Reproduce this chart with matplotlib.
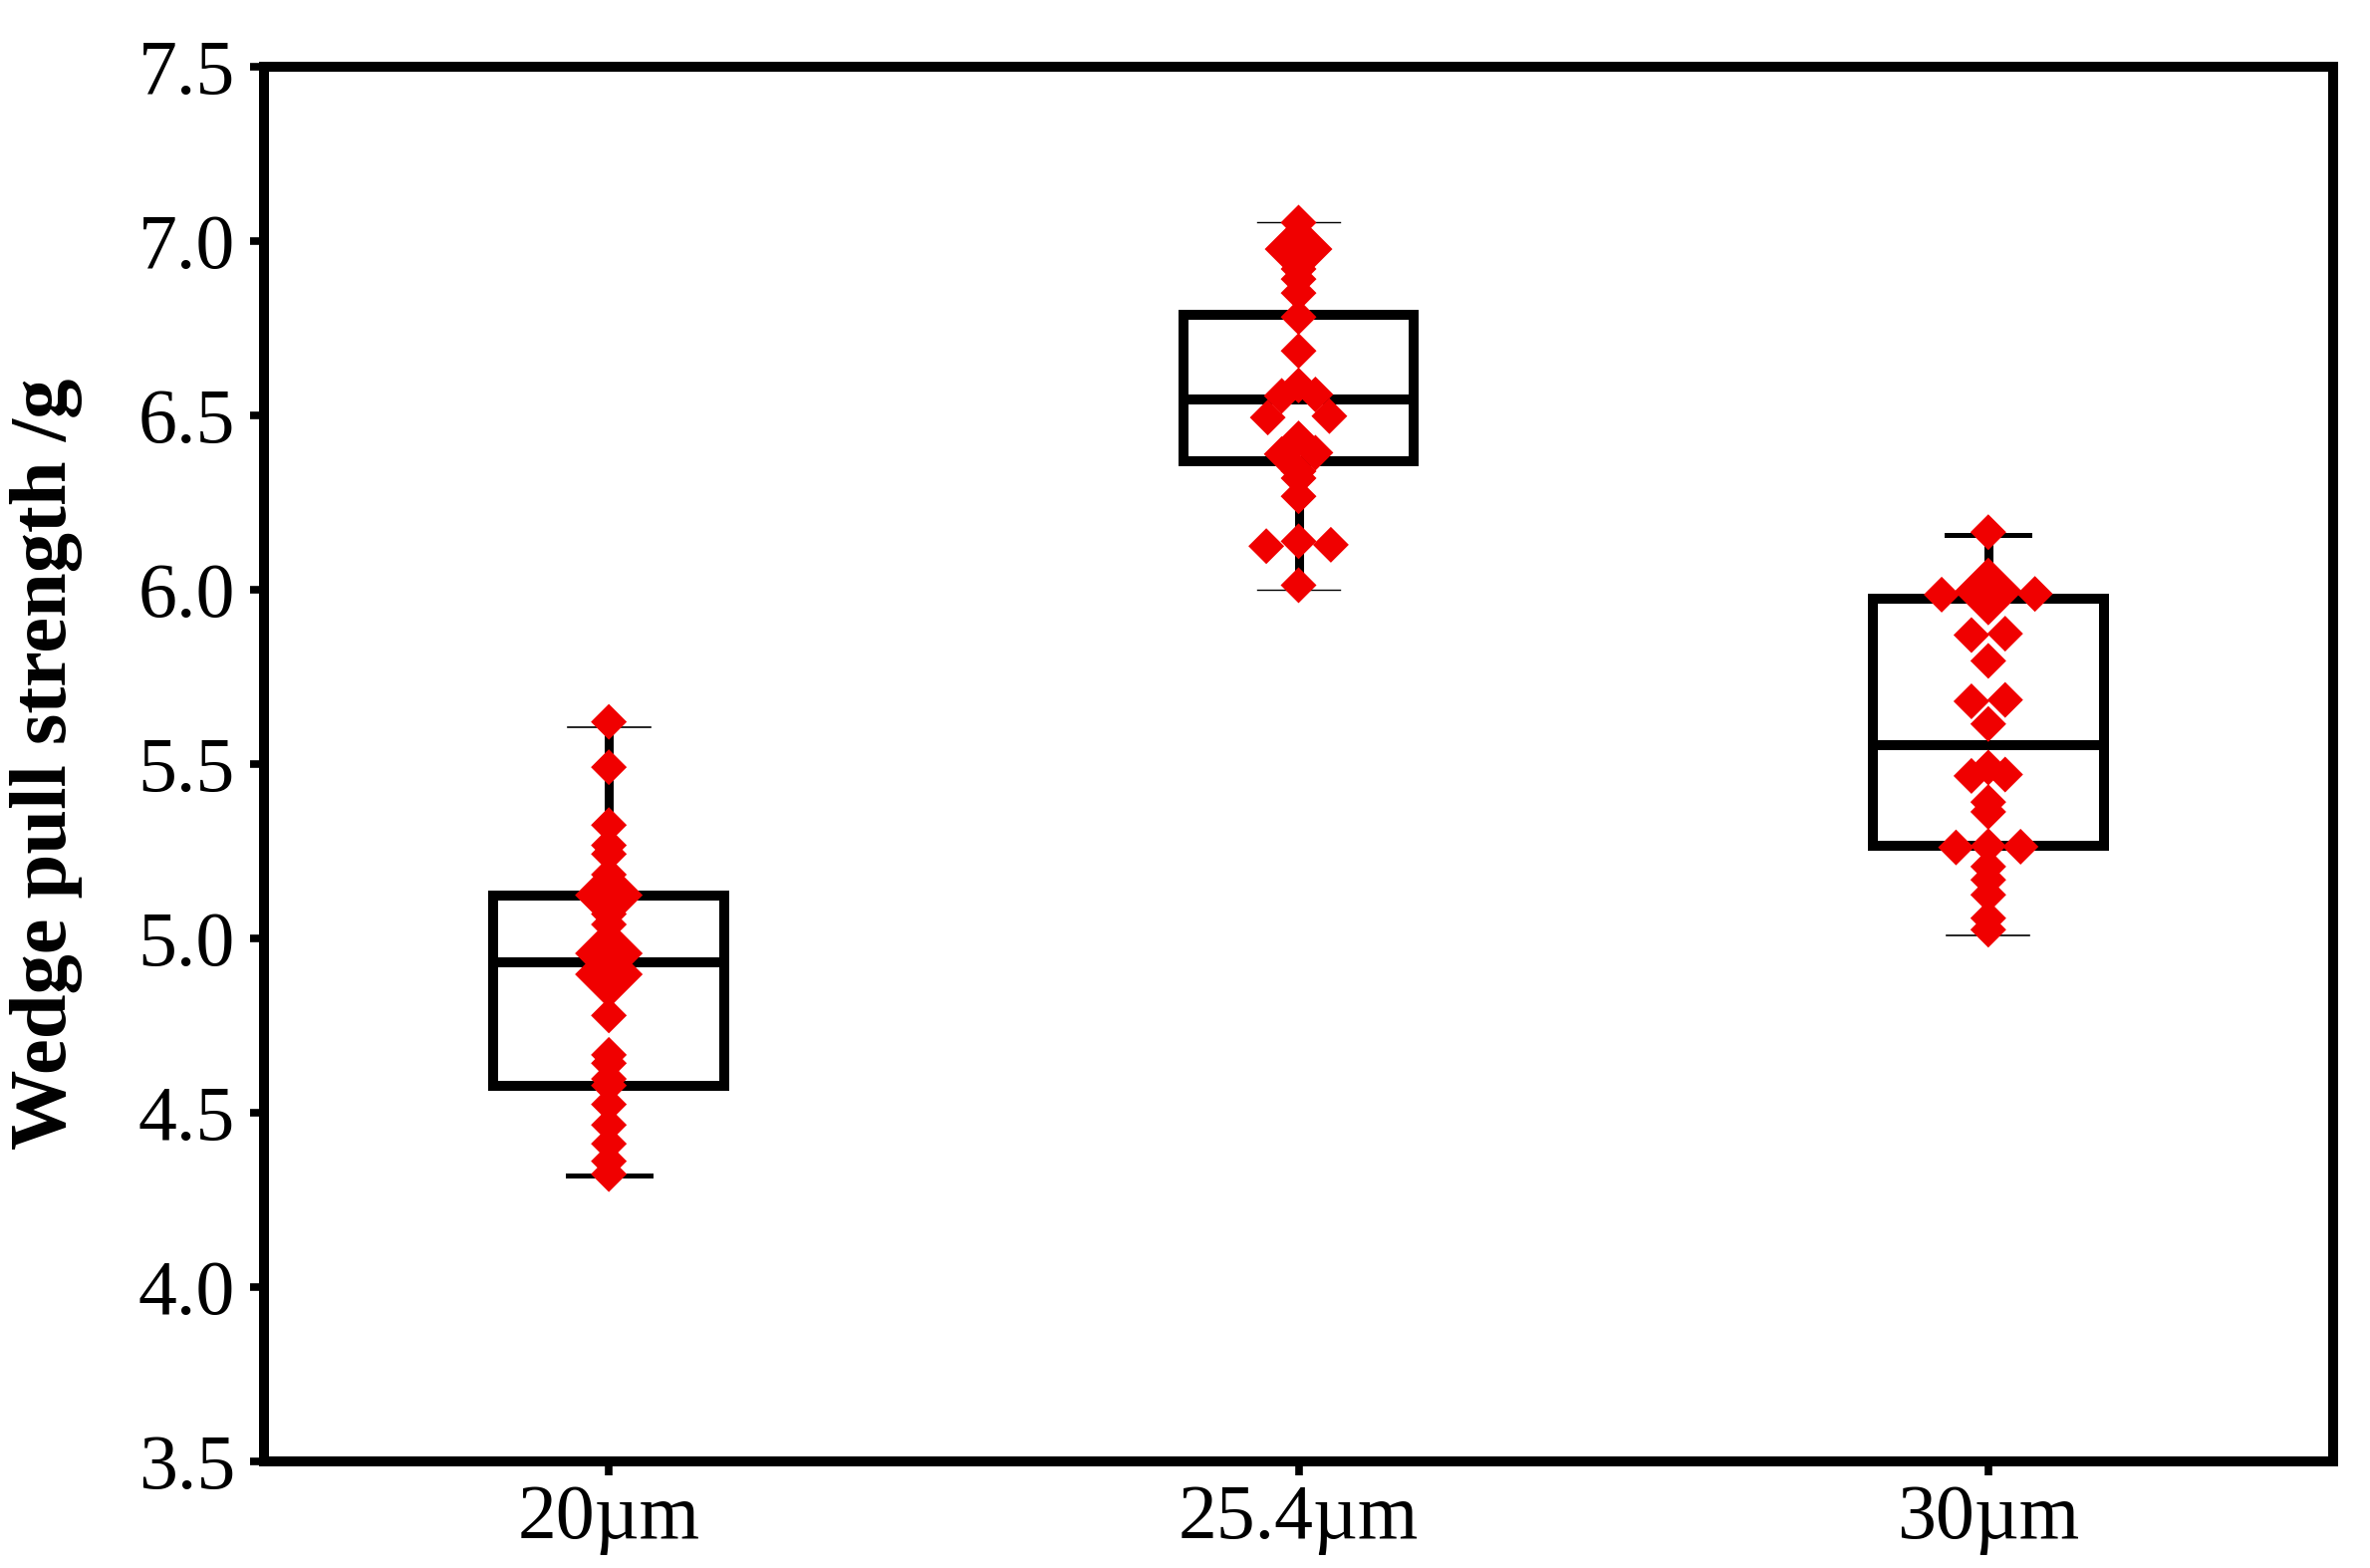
"""
와이어 굵기별 웨지 풀 강도 박스플롯.
박스(사분위·중앙값·수염)는 그림에서 읽은 값으로 bxp에 직접 넘기고,
측정점은 빨간 마름모로 겹쳐 그린다 (같은 값은 큰 마름모, 거의 같은 값은 좌우로 벌림).
"""
import matplotlib
matplotlib.use("Agg")
import matplotlib.pyplot as plt
import numpy as np

# Times New Roman과 글자 폭이 같은 Liberation Serif 사용
plt.rcParams["font.family"] = ["Liberation Serif", "DejaVu Serif"]

categories = ["20\u00b5m", "25.4\u00b5m", "30\u00b5m"]

# 측정값 (같은 값이 두 번 나오면 겹친 점 -> 큰 마름모)
g20_values = [5.621, 5.491, 5.325, 5.267, 5.242, 5.183, 5.124, 5.124, 5.070, 5.040,
              4.957, 4.957, 4.897, 4.897, 4.779, 4.666, 4.642, 4.597, 4.578, 4.524,
              4.465, 4.411, 4.361, 4.324]
g254_values = [7.053, 6.977, 6.977, 6.920, 6.891, 6.851, 6.782, 6.685, 6.586, 6.556,
               6.560, 6.494, 6.498, 6.434, 6.389, 6.393, 6.340, 6.320, 6.268, 6.125,
               6.139, 6.129, 6.013]
g30_values = [6.165, 5.995, 5.995, 5.986, 5.988, 5.870, 5.874, 5.796, 5.680, 5.684,
              5.615, 5.490, 5.466, 5.470, 5.391, 5.363, 5.261, 5.265, 5.263, 5.206,
              5.168, 5.125, 5.058, 5.025]

# 박스 통계
box_q1 = [4.578, 6.369, 5.265]
box_med = [4.932, 6.546, 5.555]
box_q3 = [5.124, 6.789, 5.974]
whisker_lo = [4.319, 5.999, 5.009]
whisker_hi = [5.606, 7.053, 6.158]

RED = "#f00000"
SMALL_R, BIG_R = 18, 34  # 마름모 반폭 (px)
PX_PER_VALUE = 350       # y 1.0 당 픽셀 (축 높이 1400px / 4.0)


def _swarm_layout(values):
    """값 -> (고유값, 가로 오프셋 px, 반폭 px).

    값 차이가 0.012 이하인 점들은 한 줄로 보고 좌우로 벌린다.
    위쪽 줄의 옆 점과 겹치면 바깥으로 조금씩 더 민다.
    """
    uniq, counts = np.unique(values, return_counts=True)
    order = np.argsort(uniq)[::-1]
    uniq, counts = uniq[order], counts[order]
    radius = np.where(counts > 1, BIG_R, SMALL_R)
    offsets = np.zeros(len(uniq))

    rows, current = [], [0]
    for i in range(1, len(uniq)):
        if uniq[i - 1] - uniq[i] <= 0.012:
            current.append(i)
        else:
            rows.append(current)
            current = [i]
    rows.append(current)

    side_points = []  # (x px, y px, r) 이미 놓인 옆 점
    for row in rows:
        if len(row) == 1:
            continue
        if len(row) % 2 == 1:
            center = max(row, key=lambda k: (counts[k], uniq[k]))
            rest = sorted([k for k in row if k != center], key=lambda k: uniq[k])
            d = 0.9 * (radius[center] + SMALL_R)
        else:
            rest = sorted(row, key=lambda k: uniq[k])
            d = 0.47 * 2 * SMALL_R
        y = uniq[rest[0]] * PX_PER_VALUE
        while any(abs(px - d) + abs(py - y) < 0.97 * (pr + SMALL_R)
                  for px, py, pr in side_points):
            d += 14
        left, right = rest[0], rest[1]
        offsets[left], offsets[right] = -d, d
        side_points.append((d, y, radius[right]))
    return uniq, offsets, radius


fig = plt.figure(figsize=(23.79, 15.74), dpi=100)
ax = fig.add_axes([265 / 2379, 107 / 1574, 2077 / 2379, 1400 / 1574])

positions = np.arange(1, len(categories) + 1)
stats = [
    dict(med=m, q1=q1, q3=q3, whislo=lo, whishi=hi, fliers=[])
    for m, q1, q3, lo, hi in zip(box_med, box_q1, box_q3, whisker_lo, whisker_hi)
]
bp = ax.bxp(
    stats, positions=positions, widths=0.335, capwidths=0.12, showfliers=False,
    boxprops=dict(color="black", linewidth=7.2, solid_joinstyle="miter"),
    whiskerprops=dict(color="black", linewidth=6.5, solid_capstyle="butt"),
    capprops=dict(color="black", linewidth=1.2),
    medianprops=dict(color="black", linewidth=7.2, solid_capstyle="butt"),
)
# 아래/위 수염 끝선 굵기가 그룹마다 다름
for cap, lw in zip(bp["caps"], [3.6, 1.2, 1.0, 1.0, 1.2, 3.6]):
    cap.set_linewidth(lw)

ax.set_xlim(0.5, 3.5)
ax.set_ylim(3.5, 7.5)
px_per_unit = ax.transData.transform((1, 0))[0] - ax.transData.transform((0, 0))[0]

for pos, values in zip(positions, [g20_values, g254_values, g30_values]):
    uniq, offsets, radius = _swarm_layout(values)
    # 'D' 마커의 꼭짓점 간 폭 = 1.414 * sqrt(s) pt
    sizes = (2 * radius * 72 / 100 / 1.414) ** 2
    ax.scatter(pos + offsets / px_per_unit, uniq, s=sizes, marker="D",
               color=RED, linewidths=0, zorder=3)

ax.set_xticks(positions)
ax.set_xticklabels(categories)
yticks = np.arange(3.5, 7.51, 0.5)
ax.set_yticks(yticks)
ax.set_yticklabels([f"{v:.1f}" for v in yticks])

for spine in ax.spines.values():
    spine.set_linewidth(7.2)
ax.tick_params(axis="both", direction="out", length=10, width=5.5, labelsize=56)
ax.tick_params(axis="x", pad=6)
ax.tick_params(axis="y", pad=11)
ax.set_ylabel("Wedge pull strength /g", fontsize=58, fontweight="bold", labelpad=40)

fig.savefig("out.png", dpi=100)
plt.close(fig)
